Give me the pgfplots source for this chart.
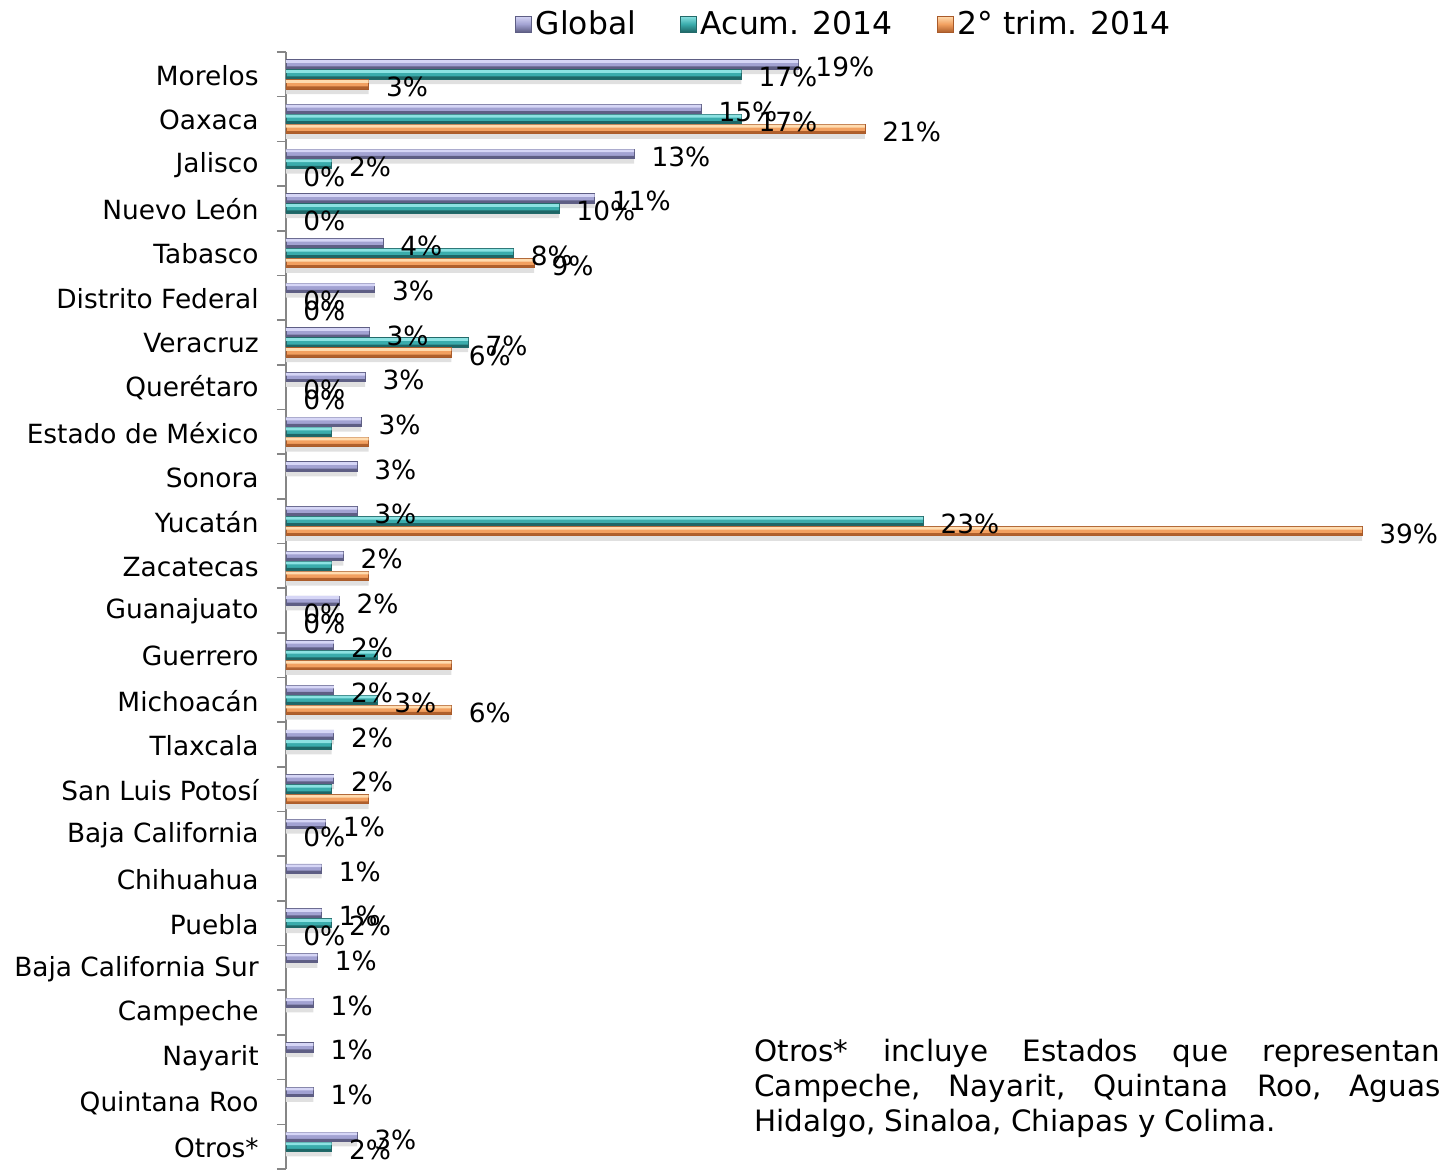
\documentclass[border=0pt]{standalone}
\usepackage{fontspec}
\setmainfont{DejaVu Sans}
\usepackage{pgfplots}
\usepackage{pgfplotstable}
\pgfplotsset{compat=1.18}
\definecolor{gTop}{HTML}{D6D6F6}
\definecolor{gMid}{HTML}{A2A2D2}
\definecolor{gBot}{HTML}{5E5E84}
\definecolor{gEdge}{HTML}{5E5E84}
\definecolor{aTop}{HTML}{8CE2E2}
\definecolor{aMid}{HTML}{3AACAC}
\definecolor{aBot}{HTML}{1E6666}
\definecolor{aEdge}{HTML}{236A6A}
\definecolor{tTop}{HTML}{FFDCB0}
\definecolor{tMid}{HTML}{F2A060}
\definecolor{tBot}{HTML}{B0602C}
\definecolor{tEdge}{HTML}{A85A2A}
\definecolor{axgray}{HTML}{868686}
\newcommand{\labfont}{\fontsize{13.2}{15.8}\selectfont}
% bars: x = value, y = category index (Morelos = 24 ... Otros* = 0)
\pgfplotstableread{
x y
18.75 24
15.2 23
12.75 22
11.3 21
3.55 20
3.25 19
3.05 18
2.9 17
2.75 16
2.6 15
2.6 14
2.1 13
1.95 12
1.75 11
1.75 10
1.75 9
1.75 8
1.45 7
1.3 6
1.3 5
1.15 4
1.0 3
1.0 2
1.0 1
2.6 0
}\globalbars
\pgfplotstableread{
x y
16.67 24
16.67 23
1.67 22
10.0 21
8.33 20
6.67 18
1.67 16
23.33 14
1.67 13
3.33 11
3.33 10
1.67 9
1.67 8
1.67 5
1.67 0
}\acumbars
\pgfplotstableread{
x y
3.03 24
21.2 23
9.09 20
6.06 18
3.03 16
39.4 14
3.03 13
6.06 11
6.06 10
3.03 8
}\trimbars
% labels as shown in the chart
\pgfplotstableread{
x y lab
18.75 24 19
15.2 23 15
12.75 22 13
11.3 21 11
3.55 20 4
3.25 19 3
3.05 18 3
2.9 17 3
2.75 16 3
2.6 15 3
2.6 14 3
2.1 13 2
1.95 12 2
1.75 11 2
1.75 10 2
1.75 9 2
1.75 8 2
1.45 7 1
1.3 6 1
1.3 5 1
1.15 4 1
1.0 3 1
1.0 2 1
1.0 1 1
2.6 0 3
}\globallabs
\pgfplotstableread{
x y lab
16.67 24 17
16.67 23 17
1.67 22 2
10.0 21 10
8.33 20 8
6.67 18 7
23.33 14 23
3.33 10 3
1.67 5 2
1.67 0 2
0 19 0
0 17 0
0 12 0
0 7 0
}\acumlabs
\pgfplotstableread{
x y lab
3.03 24 3
21.2 23 21
9.09 20 9
6.06 18 6
39.4 14 39
6.06 10 6
0 22 0
0 21 0
0 19 0
0 17 0
0 12 0
0 5 0
}\trimlabs
\pgfplotsset{
  sh/.style={forget plot, draw=none, fill=black!12, bar width=2.6pt, bar shift=#1},
  base/.style n args={5}{draw=#4, line width=0.4pt, fill=#2, bar width=4.6pt, bar shift=#5,
     legend image code/.code={\path[draw=#4, line width=0.4pt, top color=#1, bottom color=#3, middle color=#2] (0pt,-4pt) rectangle (8pt,4pt);}},
  stripe/.style n args={3}{forget plot, draw=none, fill=#1, bar width=#2, bar shift=#3},
  lab/.style={forget plot, draw=none, fill=none, bar shift=#1, nodes near coords={\pgfplotspointmeta\%}, point meta=explicit symbolic},
}
\begin{document}
\begin{tikzpicture}
\begin{axis}[
  scale only axis, width=538pt, height=558.5pt,
  xmin=0, xmax=39.4, ymin=-0.5, ymax=24.5,
  xbar, bar width=4.6pt,
  axis y line*=left, axis x line=none,
  axis line style={draw=axgray, line width=0.8pt},
  ytick={0,...,24},
  yticklabels={Otros*, Quintana Roo, Nayarit, Campeche, Baja California Sur, Puebla, Chihuahua, Baja California, San Luis Potosí, Tlaxcala, Michoacán, Guerrero, Guanajuato, Zacatecas, Yucatán, Sonora, Estado de México, Querétaro, Veracruz, Distrito Federal, Tabasco, Nuevo León, Jalisco, Oaxaca, Morelos},
  minor ytick={-0.5,0.5,...,24.5},
  major tick length=0pt, minor tick length=4.5pt, tick align=outside,
  minor tick style={draw=axgray, line width=0.8pt},
  yticklabel style={font=\labfont, anchor=east, inner sep=0pt, xshift=-13.5pt, yshift=-0.5pt},
  every node near coord/.append style={anchor=west, inner sep=0pt, xshift=8.5pt, yshift=-1.5pt, font=\labfont, text=black},
  clip=false,
  legend columns=3,
  legend style={at={(0.5195,1.025)}, anchor=center, draw=none, fill=none, font=\fontsize{15.7}{18}\selectfont, /tikz/every even column/.append style={column sep=20pt}},
]
% shadows
\addplot[sh=1.4pt] table[x=x,y=y] {\globalbars};
\addplot[sh=-3.6pt] table[x=x,y=y] {\acumbars};
\addplot[sh=-8.6pt] table[x=x,y=y] {\trimbars};
% base bars (legend entries)
\addplot[base={gTop}{gMid}{gBot}{gEdge}{5pt}] table[x=x,y=y] {\globalbars};
\addlegendentry{Global}
\addplot[base={aTop}{aMid}{aBot}{aEdge}{0pt}] table[x=x,y=y] {\acumbars};
\addlegendentry{Acum. 2014}
\addplot[base={tTop}{tMid}{tBot}{tEdge}{-5pt}] table[x=x,y=y] {\trimbars};
\addlegendentry{2° trim. 2014}
% bevel stripes: light top, dark bottom
\addplot[stripe={gTop}{1.4pt}{6.45pt}] table[x=x,y=y] {\globalbars};
\addplot[stripe={gBot}{1.2pt}{3.35pt}] table[x=x,y=y] {\globalbars};
\addplot[stripe={aTop}{1.4pt}{1.45pt}] table[x=x,y=y] {\acumbars};
\addplot[stripe={aBot}{1.2pt}{-1.65pt}] table[x=x,y=y] {\acumbars};
\addplot[stripe={tTop}{1.4pt}{-3.55pt}] table[x=x,y=y] {\trimbars};
\addplot[stripe={tBot}{1.2pt}{-6.65pt}] table[x=x,y=y] {\trimbars};
% data labels
\addplot[lab=5pt] table[x=x,y=y,meta=lab] {\globallabs};
\addplot[lab=0pt] table[x=x,y=y,meta=lab] {\acumlabs};
\addplot[lab=-5pt] table[x=x,y=y,meta=lab] {\trimlabs};
\node[anchor=base west, inner sep=0pt, align=left, font=\fontsize{14.7}{17.5}\selectfont] at (rel axis cs:0.435,0.034)
{\hbox to 343pt{Otros*\hfill incluye\hfill Estados\hfill que\hfill representan}\\
\hbox to 343pt{Campeche,\hfill Nayarit,\hfill Quintana\hfill Roo,\hfill Aguas}\\
Hidalgo, Sinaloa, Chiapas y Colima.};
\end{axis}
\pgfresetboundingbox
\path ([shift={(-143pt,0pt)}]current axis.south west) rectangle ([shift={(578.5pt,584.5pt)}]current axis.south west);
\end{tikzpicture}
\end{document}
